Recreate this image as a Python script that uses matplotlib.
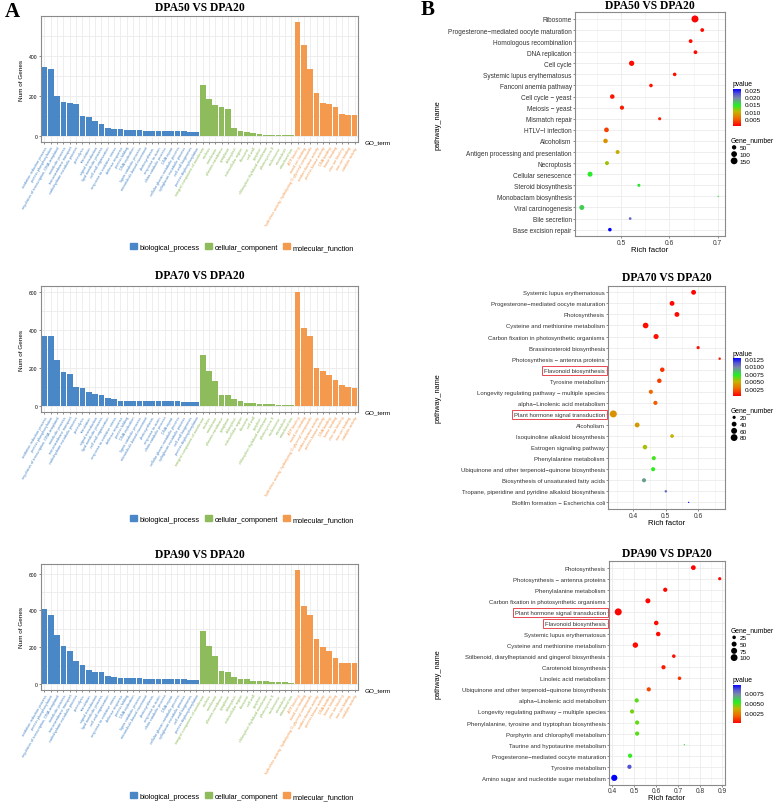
import numpy as np
import matplotlib
matplotlib.use('Agg')
import matplotlib.pyplot as plt
from matplotlib.colors import LinearSegmentedColormap
from matplotlib.patches import Patch
from matplotlib.ticker import MultipleLocator

plt.rcParams['font.family'] = ['Liberation Sans', 'DejaVu Sans']

# ---------------- GO data (panel A) ----------------
bp_terms = ["oxidation-reduction process", "protein phosphorylation",
            "regulation of transcription, DNA-templated", "metabolic process",
            "transmembrane transport", "carbohydrate metabolic process",
            "proteolysis", "translation", "signal transduction",
            "lipid metabolic process", "cell wall organization",
            "response to oxidative stress", "defense response", "protein folding",
            "DNA replication", "lignin catabolic process",
            "microtubule-based movement", "photosynthesis", "response to auxin",
            "chitin catabolic process", "DNA repair",
            "cellular glucan metabolic process", "xyloglucan metabolic process",
            "cell wall biogenesis", "protein dephosphorylation"]
cc_terms = ["integral component of membrane", "nucleus", "membrane",
            "plasma membrane", "cytoplasm", "chloroplast", "extracellular region",
            "ribosome", "cell wall", "apoplast", "chloroplast thylakoid membrane",
            "photosystem II", "nucleosome", "microtubule", "mitochondrion"]
mf_terms = ["ATP binding", "metal ion binding",
            "hydrolase activity, hydrolyzing O-glycosyl compounds",
            "oxidoreductase activity", "protein kinase activity", "DNA binding",
            "heme binding", "zinc ion binding", "iron ion binding",
            "catalytic activity"]

dpa50_bp = [345, 332, 202, 170, 167, 160, 100, 95, 75, 60, 40, 37, 37, 32, 30,
            29, 28, 28, 27, 27, 26, 25, 24, 22, 20]
dpa50_cc = [252, 183, 157, 143, 137, 42, 28, 20, 15, 10, 8, 7, 6, 5, 5]
dpa50_mf = [567, 452, 332, 215, 165, 162, 143, 110, 108, 107]

dpa70_bp = [367, 367, 243, 180, 168, 100, 96, 73, 63, 60, 42, 37, 28, 28, 27,
            26, 26, 26, 25, 25, 24, 24, 23, 22, 21]
dpa70_cc = [268, 185, 131, 59, 58, 38, 28, 17, 16, 12, 12, 9, 7, 5, 5]
dpa70_mf = [600, 409, 369, 200, 185, 163, 138, 108, 101, 94]

dpa90_bp = [407, 375, 264, 209, 178, 127, 105, 76, 67, 64, 44, 38, 35, 33, 31,
            31, 29, 29, 27, 27, 27, 25, 25, 24, 24]
dpa90_cc = [289, 207, 151, 69, 67, 40, 29, 27, 16, 16, 16, 13, 11, 11, 7]
dpa90_mf = [622, 427, 375, 247, 200, 182, 142, 116, 116, 115]

# ---------------- KEGG data (panel B) ----------------
k50_names = ["Ribosome", "Progesterone\u2212mediated oocyte maturation",
             "Homologous recombination", "DNA replication", "Cell cycle",
             "Systemic lupus erythematosus", "Fanconi anemia pathway",
             "Cell cycle \u2212 yeast", "Meiosis \u2212 yeast", "Mismatch repair",
             "HTLV\u2212I infection", "Alcoholism",
             "Antigen processing and presentation", "Necroptosis",
             "Cellular senescence", "Steroid biosynthesis",
             "Monobactam biosynthesis", "Viral carcinogenesis", "Bile secretion",
             "Base excision repair"]
k50_rich = [0.653, 0.668, 0.644, 0.654, 0.522, 0.611, 0.562, 0.482, 0.502, 0.580,
            0.470, 0.468, 0.493, 0.471, 0.436, 0.537, 0.701, 0.419, 0.519, 0.477]
k50_genes = [160, 35, 35, 35, 80, 30, 30, 55, 45, 20, 60, 55, 40, 40, 70, 20, 5,
             70, 15, 30]
k50_p = [0.0007, 0.0010, 0.0010, 0.0010, 0.0010, 0.0012, 0.0013, 0.0015, 0.0018,
         0.0020, 0.0035, 0.0080, 0.0095, 0.0110, 0.0145, 0.0148, 0.0150, 0.0160,
         0.0210, 0.0254]

k70_names = ["Systemic lupus erythematosus",
             "Progesterone\u2212mediated oocyte maturation", "Photosynthesis",
             "Cysteine and methionine metabolism",
             "Carbon fixation in photosynthetic organisms",
             "Brassinosteroid biosynthesis",
             "Photosynthesis \u2212 antenna proteins", "Flavonoid biosynthesis",
             "Tyrosine metabolism",
             "Longevity regulating pathway \u2212 multiple species",
             "alpha\u2212Linolenic acid metabolism",
             "Plant hormone signal transduction", "Alcoholism",
             "Isoquinoline alkaloid biosynthesis", "Estrogen signaling pathway",
             "Phenylalanine metabolism",
             "Ubiquinone and other terpenoid\u2212quinone biosynthesis",
             "Biosynthesis of unsaturated fatty acids",
             "Tropane, piperidine and pyridine alkaloid biosynthesis",
             "Biofilm formation \u2212 Escherichia coli"]
k70_rich = [0.585, 0.519, 0.534, 0.438, 0.470, 0.599, 0.665, 0.489, 0.480, 0.454,
            0.468, 0.339, 0.412, 0.519, 0.436, 0.463, 0.461, 0.433, 0.500, 0.570]
k70_genes = [40, 40, 40, 55, 45, 20, 15, 35, 35, 30, 30, 85, 40, 25, 35, 30, 30,
             30, 15, 12]
k70_p = [0.0001, 0.0002, 0.0002, 0.0003, 0.0004, 0.0005, 0.0006, 0.0012, 0.0015,
         0.0025, 0.0022, 0.0038, 0.0040, 0.0048, 0.0052, 0.0065, 0.0068, 0.0090,
         0.0105, 0.0127]

k90_names = ["Photosynthesis", "Photosynthesis \u2212 antenna proteins",
             "Phenylalanine metabolism",
             "Carbon fixation in photosynthetic organisms",
             "Plant hormone signal transduction", "Flavonoid biosynthesis",
             "Systemic lupus erythematosus", "Cysteine and methionine metabolism",
             "Stilbenoid, diarylheptanoid and gingerol biosynthesis",
             "Carotenoid biosynthesis", "Linoleic acid metabolism",
             "Ubiquinone and other terpenoid\u2212quinone biosynthesis",
             "alpha\u2212Linolenic acid metabolism",
             "Longevity regulating pathway \u2212 multiple species",
             "Phenylalanine, tyrosine and tryptophan biosynthesis",
             "Porphyrin and chlorophyll metabolism",
             "Taurine and hypotaurine metabolism",
             "Progesterone\u2212mediated oocyte maturation", "Tyrosine metabolism",
             "Amino sugar and nucleotide sugar metabolism"]
k90_rich = [0.769, 0.889, 0.641, 0.562, 0.427, 0.600, 0.609, 0.505, 0.680, 0.633,
            0.706, 0.566, 0.511, 0.490, 0.513, 0.513, 0.728, 0.481, 0.478, 0.409]
k90_genes = [45, 20, 35, 50, 105, 40, 40, 60, 25, 35, 25, 35, 35, 35, 35, 35, 10,
             35, 35, 80]
k90_p = [0.00005, 0.0001, 0.0001, 0.0001, 0.0001, 0.0002, 0.0002, 0.0002, 0.0003,
         0.0005, 0.0010, 0.0013, 0.0048, 0.0045, 0.0047, 0.0048, 0.0055, 0.0052,
         0.0085, 0.0097]

boxed_terms = ["Flavonoid biosynthesis", "Plant hormone signal transduction"]

# ---------------- figure ----------------
W, H = 777, 803
fig = plt.figure(figsize=(W / 100, H / 100), dpi=100)


def box(x0, y0, x1, y1):
    return [x0 / W, 1 - y1 / H, (x1 - x0) / W, (y1 - y0) / H]


def fx(x):
    return x / W


def fy(y):
    return 1 - y / H


bp_col, cc_col, mf_col = '#4A87C7', '#8EBB5B', '#F49A4F'
border = '#8a8a8a'
grid_c = '#ebebeb'
title_size = 8.4


def go_bars(rect, title, title_y, bp, cc, mf, legend_y):
    ax = fig.add_axes(rect)
    vals = bp + cc + mf
    terms = bp_terms + cc_terms + mf_terms
    cols = [bp_col] * len(bp) + [cc_col] * len(cc) + [mf_col] * len(mf)
    x = np.arange(len(vals))
    ax.bar(x, vals, width=0.9, color=cols, zorder=2)
    ax.set_xlim(-0.6, len(vals) - 0.4)
    top = max(vals)
    ax.set_ylim(-0.05 * top, 1.05 * top)
    ax.set_xticks(x)
    ax.set_xticklabels(terms, rotation=60, ha='right', rotation_mode='anchor',
                       fontsize=2.8)
    for lab, c in zip(ax.get_xticklabels(), cols):
        lab.set_color(c)
    ax.yaxis.set_major_locator(MultipleLocator(200))
    ax.yaxis.set_minor_locator(MultipleLocator(100))
    ax.grid(axis='x', which='major', color=grid_c, lw=0.6, zorder=0)
    ax.grid(axis='y', which='both', color=grid_c, lw=0.6, zorder=0)
    ax.tick_params(axis='both', which='major', length=1.5, width=0.4,
                   color='#333333', pad=1)
    ax.tick_params(axis='y', labelsize=3.6)
    ax.tick_params(which='minor', length=0)
    for s in ax.spines.values():
        s.set_color(border)
        s.set_linewidth(0.8)
    ax.set_ylabel('Num of Genes', fontsize=4.6, labelpad=3)
    ax.set_axisbelow(True)
    b = ax.get_position()
    fig.text(b.x1 + 6 / W, b.y0, 'GO_term', fontsize=4.6, ha='left', va='center')
    fig.text(b.x0 + b.width / 2, fy(title_y), title, family='Liberation Serif',
             weight='bold', fontsize=title_size, ha='center', va='center')
    handles = [Patch(color=bp_col), Patch(color=cc_col), Patch(color=mf_col)]
    fig.legend(handles, ['biological_process', 'cellular_component',
                         'molecular_function'],
               loc='center', bbox_to_anchor=(fx(242), fy(legend_y)), ncol=3,
               frameon=False, fontsize=5.3, handlelength=0.9, handleheight=0.9,
               handletextpad=0.4, columnspacing=0.7)


go_bars(box(40.7, 17.3, 358.3, 143), 'DPA50 VS DPA20', 8, dpa50_bp, dpa50_cc,
        dpa50_mf, 248)
go_bars(box(40.7, 287.3, 358.3, 412.7), 'DPA70 VS DPA20', 276, dpa70_bp, dpa70_cc,
        dpa70_mf, 520)
go_bars(box(40.7, 565, 358.3, 690.7), 'DPA90 VS DPA20', 555, dpa90_bp, dpa90_cc,
        dpa90_mf, 797)

# ---------------- KEGG dot plots ----------------
pcmap = LinearSegmentedColormap.from_list(
    'pv', [(0.0, '#FF0000'), (0.2, '#F06A00'), (0.38, '#C4B400'),
           (0.55, '#22F022'), (0.75, '#7A8AA8'), (0.87, '#5858D0'),
           (1.0, '#0000FF')])


def dot_size(g, gmin, gmax):
    d_px = 1.3 + 5.7 * np.sqrt((np.asarray(g, float) - gmin) / (gmax - gmin))
    return (d_px * 0.72) ** 2


def kegg_dots(rect, title, title_y, names, rich, genes, pvals, vmin, vmax,
              cticks, clabels, cbar_box, ptitle_y, size_ticks, gtitle_y,
              fsize, xstep):
    ax = fig.add_axes(rect)
    n = len(names)
    y = np.arange(n)[::-1] + 1
    gmin, gmax = min(genes), max(genes)
    sc = ax.scatter(rich, y, s=dot_size(genes, gmin, gmax), c=pvals, cmap=pcmap,
                    vmin=vmin, vmax=vmax, edgecolors='none', zorder=3)
    ax.set_ylim(0.4, n + 0.6)
    ax.margins(x=0.05)
    ax.set_yticks(y)
    ax.set_yticklabels(names, fontsize=fsize, color='#333333')
    ax.xaxis.set_major_locator(MultipleLocator(xstep))
    ax.xaxis.set_minor_locator(MultipleLocator(xstep / 2))
    ax.grid(which='major', color=grid_c, lw=0.6, zorder=0)
    ax.grid(axis='x', which='minor', color='#f3f3f3', lw=0.5, zorder=0)
    ax.tick_params(which='major', length=1.5, width=0.4, color='#333333', pad=0.8)
    ax.tick_params(axis='x', labelsize=4.8, labelcolor='#333333', pad=0.5)
    ax.tick_params(which='minor', length=0)
    for s in ax.spines.values():
        s.set_color(border)
        s.set_linewidth(0.8)
    ax.set_xlabel('Rich factor', fontsize=5.6, labelpad=0)
    for lab in ax.get_yticklabels():
        if lab.get_text() in boxed_terms:
            lab.set_bbox(dict(facecolor='none', edgecolor='#E8474F', lw=0.7,
                              pad=1.3))
    b = ax.get_position()
    fig.text(fx(438), b.y0 + b.height / 2, 'pathway_name', fontsize=5.3,
             rotation=90, ha='center', va='center')
    fig.text(b.x0 + b.width / 2, fy(title_y), title, family='Liberation Serif',
             weight='bold', fontsize=title_size, ha='center', va='center')
    # pvalue colourbar
    cax = fig.add_axes(box(*cbar_box))
    cb = fig.colorbar(sc, cax=cax, ticks=cticks)
    cb.set_ticklabels(clabels)
    cb.outline.set_visible(False)
    cax.tick_params(labelsize=4.6, length=1.5, width=0.4, color='white', pad=1.5)
    fig.text(fx(cbar_box[0]), fy(ptitle_y), 'pvalue', fontsize=4.9, ha='left',
             va='center')
    # gene number legend
    handles = [ax.scatter([], [], s=dot_size(g, gmin, gmax), color='black',
                          edgecolors='none') for g in size_ticks]
    fig.legend(handles, [str(g) for g in size_ticks], title='Gene_number',
               loc='upper left', bbox_to_anchor=(fx(729), fy(gtitle_y - 5)),
               frameon=False, fontsize=4.6, title_fontsize=4.9,
               alignment='left', labelspacing=0.2, handletextpad=0.3,
               handlelength=1.2, borderpad=0.2, borderaxespad=0)


kegg_dots(box(575, 13.3, 725, 237.3), 'DPA50 VS DPA20', 6, k50_names, k50_rich,
          k50_genes, k50_p, 0.0005, 0.0255,
          [0.005, 0.010, 0.015, 0.020, 0.025],
          ['0.005', '0.010', '0.015', '0.020', '0.025'],
          (733, 90, 741, 126.7), 85, [50, 100, 150], 141, 4.7, 0.1)
kegg_dots(box(608, 286.7, 725, 510), 'DPA70 VS DPA20', 278, k70_names, k70_rich,
          k70_genes, k70_p, 0.0, 0.0127,
          [0.0025, 0.0050, 0.0075, 0.0100, 0.0125],
          ['0.0025', '0.0050', '0.0075', '0.0100', '0.0125'],
          (733, 359, 741, 397), 355, [20, 40, 60, 80], 411, 4.3, 0.1)
kegg_dots(box(609, 562, 725, 785.5), 'DPA90 VS DPA20', 554, k90_names, k90_rich,
          k90_genes, k90_p, 0.0, 0.0097,
          [0.0025, 0.0050, 0.0075], ['0.0025', '0.0050', '0.0075'],
          (733, 685.7, 741, 724.3), 680.7, [25, 50, 75, 100], 631, 4.35, 0.1)

fig.text(fx(5), fy(12), 'A', family='Liberation Serif', weight='bold',
         fontsize=15, ha='left', va='center')
fig.text(fx(421), fy(10), 'B', family='Liberation Serif', weight='bold',
         fontsize=15, ha='left', va='center')

fig.savefig('out.png', dpi=100)
